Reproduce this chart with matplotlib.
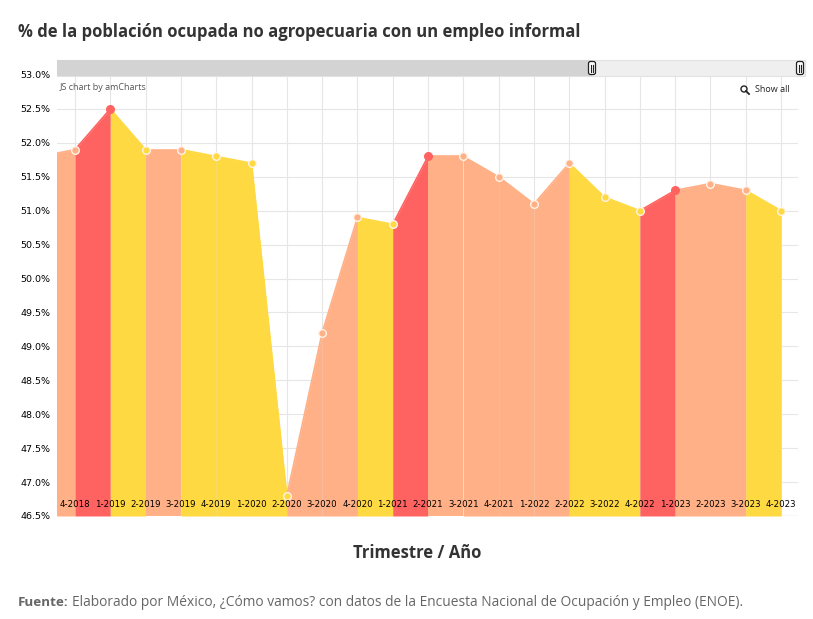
import numpy as np
import matplotlib
matplotlib.use("Agg")
import matplotlib.pyplot as plt
from matplotlib.patches import Rectangle, FancyBboxPatch, Circle

matplotlib.rcParams['font.family'] = ['Open Sans', 'DejaVu Sans']

# datos (3-2018 queda fuera de la vista, solo asoma su tramo)
trimestres = ["3-2018", "4-2018", "1-2019", "2-2019", "3-2019", "4-2019", "1-2020",
              "2-2020", "3-2020", "4-2020", "1-2021", "2-2021", "3-2021", "4-2021",
              "1-2022", "2-2022", "3-2022", "4-2022", "1-2023", "2-2023", "3-2023",
              "4-2023"]
valores = [51.8, 51.9, 52.5, 51.9, 51.9, 51.8, 51.7,
           46.8, 49.2, 50.9, 50.8, 51.8, 51.8, 51.5,
           51.1, 51.7, 51.2, 51.0, 51.3, 51.4, 51.3,
           51.0]
tono = ["s", "s", "r", "a", "s", "a", "a",
        "a", "s", "s", "a", "r", "s", "s",
        "s", "s", "a", "a", "r", "s", "s",
        "a"]
colores = {"r": "#ff6361", "s": "#ffb086", "a": "#ffd942"}

yticks = np.arange(46.5, 53.01, 0.5)

fig = plt.figure(figsize=(8.13, 6.19), dpi=100)
W, H = 813, 619
x0, x1, y0, y1 = 57, 798, 75, 516
ax = fig.add_axes([x0 / W, 1 - y1 / H, (x1 - x0) / W, (y1 - y0) / H])

x = np.arange(len(valores))
for i in range(1, len(valores)):
    c = colores[tono[i]]
    ax.fill_between(x[i - 1:i + 1], valores[i - 1:i + 1], 46.5, color=c, lw=0, zorder=1)
    ax.plot(x[i - 1:i + 1], valores[i - 1:i + 1], color=c, lw=1.2, zorder=2)
for i in range(1, len(valores)):
    c = colores[tono[i]]
    ec = c if tono[i] == "r" else "#fff4e8"
    ax.plot(x[i], valores[i], "o", ms=5.5, mfc=c, mec=ec, mew=1, zorder=3)

# etiquetas de trimestre dentro del area
for i in range(1, len(valores)):
    ax.text(x[i], 0.026, trimestres[i], transform=ax.get_xaxis_transform(),
            fontsize=6.2, family="DejaVu Sans", color="black",
            ha="center", va="center", zorder=4)

ax.set_xlim(0.49, 21.48)
ax.set_ylim(46.5, 53.0)
ax.set_yticks(yticks)
ax.set_yticklabels(["%.1f%%" % v for v in yticks], fontsize=6.8, family="DejaVu Sans")
ax.set_xticks(x[1:])
ax.set_xticklabels([])
ax.tick_params(axis="x", length=0)
ax.tick_params(axis="y", length=0, pad=5)
ax.grid(True, color="#e6e6e6", lw=0.8)
ax.set_axisbelow(True)
for s in ax.spines.values():
    s.set_visible(False)
ax.axhline(46.5, color="#e0e0e0", lw=1, zorder=0)

# capa en pixeles para titulo, barra de desplazamiento y notas
ov = fig.add_axes([0, 0, 1, 1], facecolor="none")
ov.set_xlim(0, W)
ov.set_ylim(H, 0)
ov.axis("off")

ov.text(18, 32, "% de la población ocupada no agropecuaria con un empleo informal",
        fontsize=12, fontweight="bold", color="#333333", va="center")

ov.add_patch(Rectangle((57, 60), 748, 16, fc="#efefef", ec="#e2e2e2", lw=0.8))
ov.add_patch(Rectangle((57, 60), 535, 16, fc="#d3d3d3", ec="none"))
for hx in [592, 800]:
    ov.add_patch(FancyBboxPatch((hx - 3.5, 61.5), 7, 13, boxstyle="round,pad=0,rounding_size=2",
                                fc="white", ec="#222222", lw=0.9))
    ov.plot([hx - 1, hx - 1], [64.5, 71.5], color="#222222", lw=0.8)
    ov.plot([hx + 1, hx + 1], [64.5, 71.5], color="#222222", lw=0.8)

ov.text(60, 88, "JS chart by amCharts", fontsize=6.5, color="#555555", va="center")
ov.add_patch(Circle((744, 89), 3, fc="none", ec="#222222", lw=1))
ov.plot([746, 749], [91, 94], color="#222222", lw=1.3)
ov.text(755, 89.5, "Show all", fontsize=6.5, color="#222222", va="center")

ov.text(417, 553, "Trimestre / Año", fontsize=12, fontweight="bold", color="#333333",
        ha="center", va="center")
ov.text(18, 603, "Fuente:", fontsize=9.7, fontweight="bold", color="#666666", va="center")
ov.text(72, 603, "Elaborado por México, ¿Cómo vamos? con datos de la Encuesta Nacional de Ocupación y Empleo (ENOE).",
        fontsize=9.9, color="#666666", va="center")

fig.savefig("out.png", dpi=100)
